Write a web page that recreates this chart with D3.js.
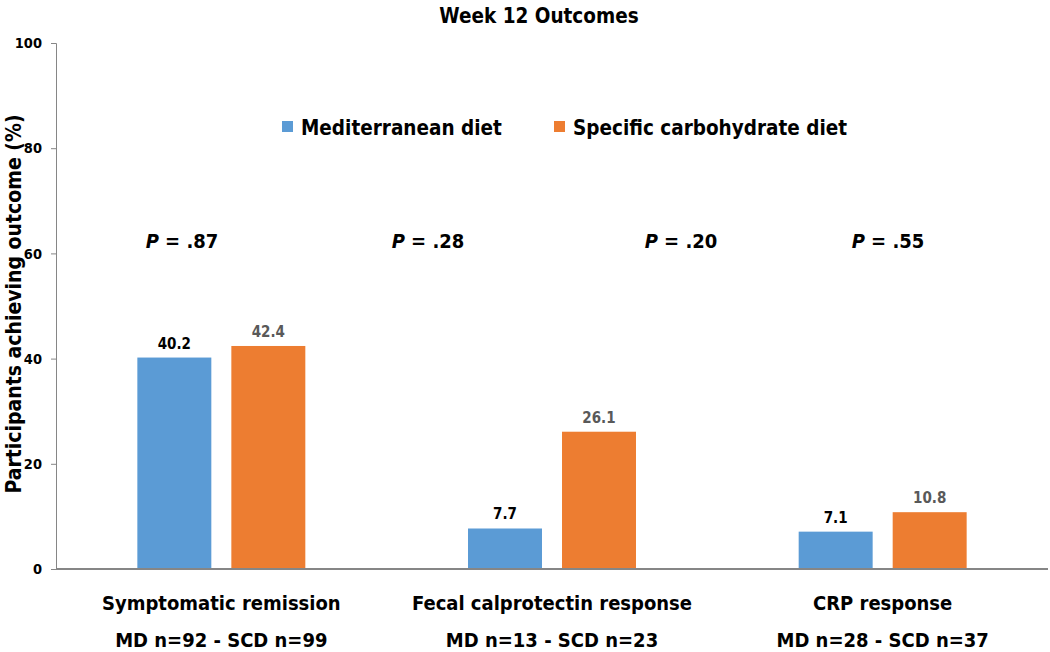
<!DOCTYPE html>
<html>
<head>
<meta charset="utf-8">
<script src="https://cdn.jsdelivr.net/npm/d3@7"></script>
<style>
  body { margin: 0; background: #fff; }
  svg text { font-family: "Liberation Sans Narrow", "DejaVu Sans Condensed", "Open Sans", sans-serif; font-weight: bold; }
</style>
</head>
<body>
<svg id="chart" width="1050" height="652"></svg>
<script>
// Chart data
const categories = ["Symptomatic remission", "Fecal calprotectin response", "CRP response"];
const sampleLabels = ["MD n=92 - SCD n=99", "MD n=13 - SCD n=23", "MD n=28 - SCD n=37"];
const seriesNames = ["Mediterranean diet", "Specific carbohydrate diet"];
const mdValues = [40.2, 7.7, 7.1];
const scdValues = [42.4, 26.1, 10.8];
const pValues = [".87", ".28", ".20", ".55"];
const yTicks = [0, 20, 40, 60, 80, 100];

const colors = ["#5B9BD5", "#ED7D31"];
const labelColors = ["#000000", "#595959"];

// P value label centers (pixels) - placed as text boxes in the original
const pLabelX = [182, 428, 681, 888];

const svg = d3.select("#chart");
const margin = { left: 56, right: 2, top: 43, bottom: 83 };
const width = 1050, height = 652;

const y = d3.scaleLinear().domain([0, 100]).range([height - margin.bottom, margin.top]);

const x0 = d3.scaleBand()
    .domain(categories)
    .range([margin.left, width - margin.right])
    .paddingInner(0.492)
    .paddingOuter(0.246);

const x1 = d3.scaleBand()
    .domain(seriesNames)
    .range([0, x0.bandwidth()])
    .paddingInner(0.213);

// Title
svg.append("text")
    .attr("x", 539)
    .attr("y", 23)
    .attr("text-anchor", "middle")
    .style("font-size", "20.5px")
    .text("Week 12 Outcomes");

// Y axis
const yAxis = svg.append("g")
    .attr("transform", `translate(${margin.left},0)`)
    .call(d3.axisLeft(y).tickValues(yTicks).tickSize(5).tickPadding(9));
yAxis.select(".domain").attr("stroke", "#868686");
yAxis.selectAll(".tick line").attr("stroke", "#868686");
yAxis.selectAll(".tick text")
    .style("font-size", "14.5px")
    .attr("fill", "#000");

// Y axis title
svg.append("text")
    .attr("transform", `translate(21,304) rotate(-90)`)
    .attr("text-anchor", "middle")
    .style("font-size", "21px")
    .text("Participants achieving outcome (%)");

// Bars
const rows = categories.map((c, i) => ({ category: c, values: [mdValues[i], scdValues[i]] }));

const groups = svg.selectAll("g.group")
    .data(rows)
    .enter()
    .append("g")
    .attr("class", "group")
    .attr("transform", d => `translate(${x0(d.category)},0)`);

groups.selectAll("rect")
    .data(d => d.values.map((v, j) => ({ series: seriesNames[j], value: v, j: j })))
    .enter()
    .append("rect")
    .attr("x", d => x1(d.series))
    .attr("y", d => y(d.value))
    .attr("width", x1.bandwidth())
    .attr("height", d => y(0) - y(d.value))
    .attr("fill", d => colors[d.j]);

groups.selectAll("text.val")
    .data(d => d.values.map((v, j) => ({ series: seriesNames[j], value: v, j: j })))
    .enter()
    .append("text")
    .attr("class", "val")
    .attr("x", d => x1(d.series) + x1.bandwidth() / 2)
    .attr("y", d => y(d.value) - 9)
    .attr("text-anchor", "middle")
    .style("font-size", "15px")
    .attr("fill", d => labelColors[d.j])
    .text(d => d.value.toFixed(1));

// X axis line
svg.append("line")
    .attr("x1", margin.left)
    .attr("x2", width - margin.right)
    .attr("y1", y(0))
    .attr("y2", y(0))
    .attr("stroke", "#868686")
    .attr("stroke-width", 2);

// Category labels
svg.selectAll("text.cat")
    .data(categories)
    .enter()
    .append("text")
    .attr("class", "cat")
    .attr("x", d => x0(d) + x0.bandwidth() / 2)
    .attr("y", 610)
    .attr("text-anchor", "middle")
    .style("font-size", "20px")
    .text(d => d);

svg.selectAll("text.n")
    .data(sampleLabels)
    .enter()
    .append("text")
    .attr("class", "n")
    .attr("x", (d, i) => x0(categories[i]) + x0.bandwidth() / 2)
    .attr("y", 647)
    .attr("text-anchor", "middle")
    .style("font-size", "20px")
    .text(d => d);

// P values
const pText = svg.selectAll("text.p")
    .data(pValues)
    .enter()
    .append("text")
    .attr("class", "p")
    .attr("x", (d, i) => pLabelX[i])
    .attr("y", 248)
    .attr("text-anchor", "middle")
    .style("font-size", "20px");
pText.append("tspan").style("font-style", "italic").text("P");
pText.append("tspan").text(d => " = " + d);

// Legend
const legendX = [282, 554];
const legend = svg.selectAll("g.legend")
    .data(seriesNames)
    .enter()
    .append("g")
    .attr("class", "legend")
    .attr("transform", (d, i) => `translate(${legendX[i]},121)`);
legend.append("rect")
    .attr("width", 11)
    .attr("height", 11)
    .attr("fill", (d, i) => colors[i]);
legend.append("text")
    .attr("x", 19)
    .attr("y", 14)
    .style("font-size", "20.5px")
    .text(d => d);
</script>
</body>
</html>
